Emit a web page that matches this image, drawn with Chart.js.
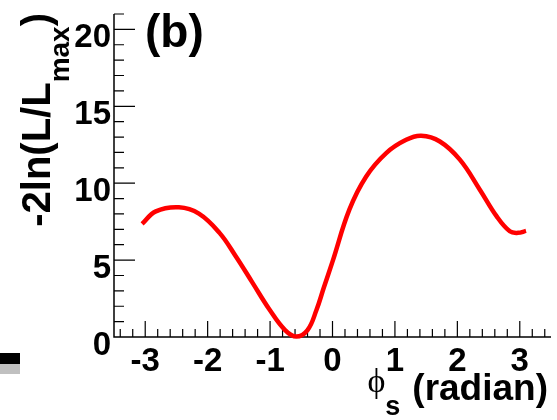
<!DOCTYPE html>
<html>
<head>
<meta charset="utf-8">
<script src="https://cdn.jsdelivr.net/npm/chart.js@4/dist/chart.umd.min.js"></script>
<style>
  html, body { margin: 0; padding: 0; background: #fff; }
  canvas { display: block; }
</style>
</head>
<body>
<canvas id="chart" width="557" height="420"></canvas>
<script>
// scan of -2ln(L/Lmax) versus phi_s
const phiValues = [-3.05, -2.83, -2.46, -2.14, -1.81, -1.55, -1.28, -1.01, -0.76, -0.58,
                   -0.40, -0.26, -0.14, 0.00, 0.27, 0.54, 0.86, 1.18, 1.42, 1.72,
                   2.04, 2.36, 2.63, 2.84, 2.97, 3.10];
const nllValues = [7.35, 8.17, 8.43, 8.02, 6.77, 5.25, 3.52, 1.79, 0.45, 0.03,
                   0.45, 1.72, 3.20, 4.90, 8.28, 10.44, 11.96, 12.82, 13.08, 12.71,
                   11.53, 9.58, 7.84, 6.87, 6.77, 6.90];
const xTickLabels = [-3, -2, -1, 0, 1, 2, 3];
const yTickLabels = [0, 5, 10, 15, 20];

const SANS = '"Liberation Sans", Arial, Helvetica, sans-serif';
const SERIF = '"Liberation Serif", "DejaVu Serif", serif';

// ROOT style frame: ticks inside, big bold labels
const rootAxes = {
  id: 'rootAxes',
  beforeDatasetsDraw(chart) {
    const { ctx, chartArea: a, scales: { x, y } } = chart;
    ctx.save();
    ctx.strokeStyle = '#000';
    ctx.lineWidth = 1.5;
    ctx.beginPath();
    ctx.moveTo(a.left, a.top);
    ctx.lineTo(a.left, a.bottom);
    ctx.lineTo(a.right, a.bottom);
    ctx.stroke();

    ctx.lineWidth = 1.2;
    ctx.beginPath();
    for (let i = -17; i <= 17; i++) {
      const px = x.getPixelForValue(i / 5);
      ctx.moveTo(px, a.bottom);
      ctx.lineTo(px, a.bottom - (i % 5 === 0 ? 16 : 8));
    }
    for (let v = 1; v <= 21; v++) {
      const py = y.getPixelForValue(v);
      ctx.moveTo(a.left, py);
      ctx.lineTo(a.left + (v % 5 === 0 ? 21 : 10), py);
    }
    ctx.stroke();

    ctx.fillStyle = '#000';
    ctx.font = 'bold 33px ' + SANS;
    ctx.textBaseline = 'alphabetic';
    ctx.textAlign = 'center';
    xTickLabels.forEach(v => ctx.fillText(String(v), x.getPixelForValue(v), a.bottom + 34));
    ctx.textAlign = 'right';
    yTickLabels.forEach(v => ctx.fillText(String(v), a.left - 3, y.getPixelForValue(v) + 17.5));

    // y title, rotated, ending at the top of the axis
    ctx.save();
    ctx.translate(50, 13);
    ctx.rotate(-Math.PI / 2);
    ctx.textAlign = 'left';
    const mainFont = 'bold 40px ' + SANS;
    const subFont = 'bold 28px ' + SANS;
    ctx.font = mainFont;
    const w1 = ctx.measureText('-2ln(L/L').width;
    const w3 = ctx.measureText(')').width;
    ctx.font = subFont;
    const w2 = ctx.measureText('max').width;
    let tx = -(w1 + w2 + w3);
    ctx.font = mainFont;
    ctx.fillText('-2ln(L/L', tx, 0);
    tx += w1;
    ctx.font = subFont;
    ctx.fillText('max', tx, 19);
    tx += w2;
    ctx.font = mainFont;
    ctx.fillText(')', tx, 0);
    ctx.restore();

    // x title
    ctx.textAlign = 'left';
    ctx.font = 'bold 37px ' + SANS;
    const wr = ctx.measureText('(radian)').width;
    const xr = 548 - wr;
    ctx.fillText('(radian)', xr, 400);
    ctx.font = 'bold 27px ' + SANS;
    const ws = ctx.measureText('s').width;
    const xs = xr - 12 - ws;
    ctx.fillText('s', xs, 415);
    ctx.font = '34px ' + SERIF;
    const wp = ctx.measureText('\u03D5').width;
    ctx.fillText('\u03D5', xs - wp, 392);

    // panel label
    ctx.font = 'bold 46px ' + SANS;
    ctx.fillText('(b)', 145, 47);

    // leftover legend edge at the left border
    ctx.fillStyle = '#000';
    ctx.fillRect(0, 353, 20, 11);
    ctx.fillStyle = '#c0c0c0';
    ctx.fillRect(0, 364, 20, 10);
    ctx.restore();
  }
};

new Chart(document.getElementById('chart'), {
  type: 'line',
  data: {
    datasets: [{
      data: phiValues.map((p, i) => ({ x: p, y: nllValues[i] })),
      borderColor: '#ff0000',
      borderWidth: 4.5,
      pointRadius: 0,
      fill: false,
      tension: 0.4,
      clip: false
    }]
  },
  options: {
    responsive: false,
    devicePixelRatio: 1,
    animation: false,
    layout: { padding: { left: 114, right: 6, top: 14, bottom: 83 } },
    plugins: { legend: { display: false }, tooltip: { enabled: false } },
    scales: {
      x: { type: 'linear', min: -3.5, max: 3.5, display: false },
      y: { type: 'linear', min: 0, max: 21, display: false }
    }
  },
  plugins: [rootAxes]
});
</script>
</body>
</html>
